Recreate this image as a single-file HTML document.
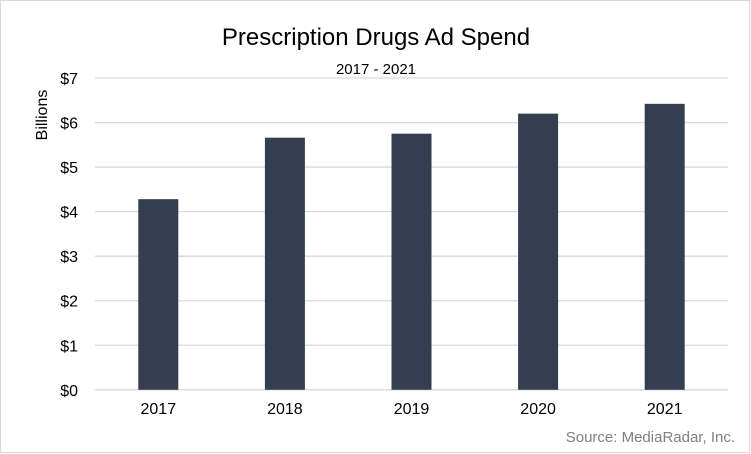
<!DOCTYPE html>
<html><head><meta charset="utf-8"><style>
body{margin:0;background:#fff;}
svg{display:block;font-family:"Liberation Sans",Calibri,sans-serif;}
</style></head><body>
<svg width="751" height="454" viewBox="0 0 751 454">
<rect x="0.5" y="0.5" width="749" height="452" fill="#fff" stroke="#d9d9d9"/>
<text x="376" y="45" text-anchor="middle" font-size="24" fill="#000">Prescription Drugs Ad Spend</text>
<text x="376" y="74" text-anchor="middle" font-size="15" fill="#000">2017 - 2021</text>
<text transform="translate(47,115) rotate(-90)" text-anchor="middle" font-size="16" fill="#000">Billions</text>
<text x="735" y="442" text-anchor="end" font-size="15" fill="#808080">Source: MediaRadar, Inc.</text>
<g id="grid"></g><g id="bars"></g><g id="labels"></g>
</svg>
<script>
const categories=["2017","2018","2019","2020","2021"];
const values=[4.28,5.66,5.75,6.2,6.42];
const yTicks=[0,1,2,3,4,5,6,7];
const tickLabels=["$0","$1","$2","$3","$4","$5","$6","$7"];
const NS="http://www.w3.org/2000/svg";
const L=95,R=728,Y0=389.8,Y7=78;
const y=v=>Y0-(v/7)*(Y0-Y7);
const cw=(R-L)/categories.length;
const x=i=>L+cw*(i+0.5);
const g=document.getElementById('grid'),b=document.getElementById('bars'),lb=document.getElementById('labels');
yTicks.forEach((t,i)=>{
 const l=document.createElementNS(NS,'line');
 
 
 l.setAttribute('x1',L);l.setAttribute('x2',R);l.setAttribute('y1',y(t));l.setAttribute('y2',y(t));
 l.setAttribute('stroke','#d9d9d9');l.setAttribute('stroke-width','1.3');g.appendChild(l);
 const tx=document.createElementNS(NS,'text');
 
 
 tx.setAttribute('x',78);tx.setAttribute('y',y(t)+6);tx.setAttribute('text-anchor','end');tx.setAttribute('font-size','16');
 tx.textContent=tickLabels[i];lb.appendChild(tx);
});
categories.forEach((c,i)=>{
 const r=document.createElementNS(NS,'rect');
 
 
 r.setAttribute('x',x(i)-20);r.setAttribute('width',40);r.setAttribute('y',y(values[i]));r.setAttribute('height',Y0-y(values[i]));
 r.setAttribute('fill','#333f50');b.appendChild(r);
 const tx=document.createElementNS(NS,'text');
 
 
 tx.setAttribute('x',x(i));tx.setAttribute('y',414);tx.setAttribute('text-anchor','middle');tx.setAttribute('font-size','16');
 tx.textContent=c;lb.appendChild(tx);
});
</script>
</body></html>
